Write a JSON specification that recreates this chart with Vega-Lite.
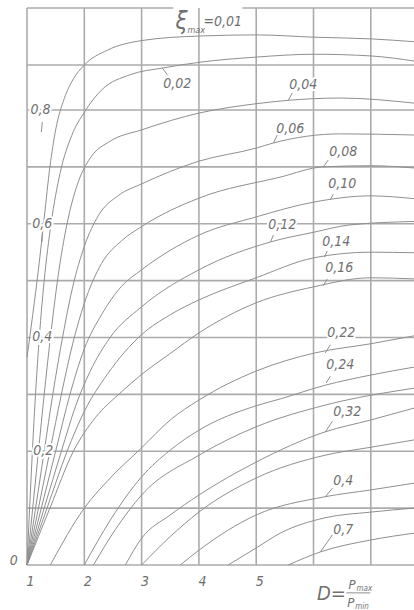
{
  "$schema": "https://vega.github.io/schema/vega-lite/v6.json",
  "width": 388,
  "height": 557,
  "autosize": {"type": "none"},
  "padding": {"left": 27, "top": 8, "right": 0, "bottom": 45},
  "background": "#ffffff",
  "config": {"view": {"stroke": null}},
  "layer": [
    {
      "data": {"values": [{"D": 1}, {"D": 2}, {"D": 3}, {"D": 4}, {"D": 5}, {"D": 6}, {"D": 7}]},
      "mark": {"type": "rule", "color": "#ababab", "strokeWidth": 1.6},
      "encoding": {
        "x": {"field": "D", "type": "quantitative", "scale": {"domain": [1, 7.771], "nice": false, "zero": false},
              "axis": {"values": [1, 2, 3, 4, 5], "format": "d", "title": null, "grid": false, "ticks": false, "domain": false,
                       "labelFont": "DejaVu Sans Condensed, DejaVu Sans", "labelFontStyle": "italic", "labelFontSize": 14,
                       "labelColor": "#6e6e6e", "labelPadding": 9, "labelOffset": 3, "labelFlush": false}},
        "y": {"datum": 0, "scale": {"domain": [0, 0.9793], "nice": false, "zero": false}, "axis": null},
        "y2": {"datum": 0.9793}
      }
    },
    {
      "data": {"values": [{"e": 0}, {"e": 0.1}, {"e": 0.2}, {"e": 0.3}, {"e": 0.4}, {"e": 0.5}, {"e": 0.6}, {"e": 0.7}, {"e": 0.8}, {"e": 0.879}]},
      "mark": {"type": "rule", "color": "#ababab", "strokeWidth": 1.6},
      "encoding": {
        "y": {"field": "e", "type": "quantitative", "scale": {"domain": [0, 0.9793], "nice": false, "zero": false}, "axis": null},
        "x": {"datum": 1, "scale": {"domain": [1, 7.771], "nice": false, "zero": false}},
        "x2": {"datum": 7.771}
      }
    },
    {
      "data": {"values": [{"a": 1, "b": 3.553, "e": 0.9793}, {"a": 4.758, "b": 7.771, "e": 0.9793}]},
      "mark": {"type": "rule", "color": "#ababab", "strokeWidth": 1.6},
      "encoding": {
        "x": {"field": "a", "type": "quantitative", "scale": {"domain": [1, 7.771], "nice": false, "zero": false}},
        "x2": {"field": "b"},
        "y": {"field": "e", "type": "quantitative", "scale": {"domain": [0, 0.9793], "nice": false, "zero": false}}
      }
    },
    {
      "data": {"values": [
        {"xi": "0.01", "D": 1.0, "e": 0.365}, {"xi": "0.01", "D": 1.1, "e": 0.44}, {"xi": "0.01", "D": 1.2, "e": 0.52}, {"xi": "0.01", "D": 1.3, "e": 0.61}, {"xi": "0.01", "D": 1.4, "e": 0.70}, {"xi": "0.01", "D": 1.5, "e": 0.765}, {"xi": "0.01", "D": 1.65, "e": 0.82}, {"xi": "0.01", "D": 1.8, "e": 0.853}, {"xi": "0.01", "D": 2.0, "e": 0.879}, {"xi": "0.01", "D": 2.4, "e": 0.905}, {"xi": "0.01", "D": 3.0, "e": 0.922}, {"xi": "0.01", "D": 4.0, "e": 0.930}, {"xi": "0.01", "D": 5.0, "e": 0.932}, {"xi": "0.01", "D": 6.0, "e": 0.928}, {"xi": "0.01", "D": 7.0, "e": 0.925}, {"xi": "0.01", "D": 7.76, "e": 0.920},
        {"xi": "0.02", "D": 1.0, "e": 0}, {"xi": "0.02", "D": 1.06, "e": 0.13}, {"xi": "0.02", "D": 1.12, "e": 0.25}, {"xi": "0.02", "D": 1.2, "e": 0.38}, {"xi": "0.02", "D": 1.3, "e": 0.5}, {"xi": "0.02", "D": 1.42, "e": 0.6}, {"xi": "0.02", "D": 1.58, "e": 0.69}, {"xi": "0.02", "D": 1.78, "e": 0.755}, {"xi": "0.02", "D": 2.0, "e": 0.796}, {"xi": "0.02", "D": 2.3, "e": 0.835}, {"xi": "0.02", "D": 2.8, "e": 0.862}, {"xi": "0.02", "D": 3.38, "e": 0.874}, {"xi": "0.02", "D": 4.02, "e": 0.884}, {"xi": "0.02", "D": 5.0, "e": 0.893}, {"xi": "0.02", "D": 6.0, "e": 0.898}, {"xi": "0.02", "D": 7.0, "e": 0.895}, {"xi": "0.02", "D": 7.76, "e": 0.886},
        {"xi": "0.04", "D": 1.0, "e": 0}, {"xi": "0.04", "D": 1.1, "e": 0.1}, {"xi": "0.04", "D": 1.2, "e": 0.2}, {"xi": "0.04", "D": 1.3, "e": 0.3}, {"xi": "0.04", "D": 1.42, "e": 0.41}, {"xi": "0.04", "D": 1.56, "e": 0.52}, {"xi": "0.04", "D": 1.72, "e": 0.61}, {"xi": "0.04", "D": 1.9, "e": 0.675}, {"xi": "0.04", "D": 2.1, "e": 0.715}, {"xi": "0.04", "D": 2.45, "e": 0.745}, {"xi": "0.04", "D": 3.0, "e": 0.765}, {"xi": "0.04", "D": 4.02, "e": 0.795}, {"xi": "0.04", "D": 5.0, "e": 0.811}, {"xi": "0.04", "D": 5.56, "e": 0.817}, {"xi": "0.04", "D": 6.47, "e": 0.821}, {"xi": "0.04", "D": 7.76, "e": 0.812},
        {"xi": "0.06", "D": 1.0, "e": 0}, {"xi": "0.06", "D": 1.15, "e": 0.1}, {"xi": "0.06", "D": 1.3, "e": 0.2}, {"xi": "0.06", "D": 1.45, "e": 0.3}, {"xi": "0.06", "D": 1.62, "e": 0.4}, {"xi": "0.06", "D": 1.8, "e": 0.49}, {"xi": "0.06", "D": 2.0, "e": 0.56}, {"xi": "0.06", "D": 2.25, "e": 0.615}, {"xi": "0.06", "D": 2.6, "e": 0.65}, {"xi": "0.06", "D": 3.0, "e": 0.67}, {"xi": "0.06", "D": 4.0, "e": 0.71}, {"xi": "0.06", "D": 5.0, "e": 0.733}, {"xi": "0.06", "D": 5.3, "e": 0.742}, {"xi": "0.06", "D": 6.47, "e": 0.758}, {"xi": "0.06", "D": 7.76, "e": 0.756},
        {"xi": "0.08", "D": 1.0, "e": 0}, {"xi": "0.08", "D": 1.2, "e": 0.1}, {"xi": "0.08", "D": 1.4, "e": 0.2}, {"xi": "0.08", "D": 1.6, "e": 0.3}, {"xi": "0.08", "D": 1.8, "e": 0.39}, {"xi": "0.08", "D": 2.0, "e": 0.46}, {"xi": "0.08", "D": 2.3, "e": 0.53}, {"xi": "0.08", "D": 2.65, "e": 0.57}, {"xi": "0.08", "D": 3.0, "e": 0.595}, {"xi": "0.08", "D": 4.0, "e": 0.645}, {"xi": "0.08", "D": 5.42, "e": 0.682}, {"xi": "0.08", "D": 6.17, "e": 0.700}, {"xi": "0.08", "D": 7.0, "e": 0.702}, {"xi": "0.08", "D": 7.76, "e": 0.698},
        {"xi": "0.10", "D": 1.0, "e": 0}, {"xi": "0.10", "D": 1.25, "e": 0.1}, {"xi": "0.10", "D": 1.5, "e": 0.2}, {"xi": "0.10", "D": 1.75, "e": 0.3}, {"xi": "0.10", "D": 2.0, "e": 0.38}, {"xi": "0.10", "D": 2.3, "e": 0.44}, {"xi": "0.10", "D": 2.65, "e": 0.49}, {"xi": "0.10", "D": 3.0, "e": 0.519}, {"xi": "0.10", "D": 4.0, "e": 0.580}, {"xi": "0.10", "D": 5.0, "e": 0.612}, {"xi": "0.10", "D": 6.0, "e": 0.638}, {"xi": "0.10", "D": 7.0, "e": 0.649}, {"xi": "0.10", "D": 7.76, "e": 0.644},
        {"xi": "0.12", "D": 1.0, "e": 0}, {"xi": "0.12", "D": 1.3, "e": 0.1}, {"xi": "0.12", "D": 1.6, "e": 0.2}, {"xi": "0.12", "D": 1.85, "e": 0.28}, {"xi": "0.12", "D": 2.1, "e": 0.34}, {"xi": "0.12", "D": 2.45, "e": 0.40}, {"xi": "0.12", "D": 3.0, "e": 0.454}, {"xi": "0.12", "D": 4.0, "e": 0.519}, {"xi": "0.12", "D": 5.25, "e": 0.568}, {"xi": "0.12", "D": 6.0, "e": 0.585}, {"xi": "0.12", "D": 6.64, "e": 0.598}, {"xi": "0.12", "D": 7.76, "e": 0.604},
        {"xi": "0.14", "D": 1.0, "e": 0}, {"xi": "0.14", "D": 1.35, "e": 0.1}, {"xi": "0.14", "D": 1.7, "e": 0.2}, {"xi": "0.14", "D": 2.0, "e": 0.27}, {"xi": "0.14", "D": 2.4, "e": 0.335}, {"xi": "0.14", "D": 3.0, "e": 0.405}, {"xi": "0.14", "D": 3.5, "e": 0.44}, {"xi": "0.14", "D": 4.0, "e": 0.466}, {"xi": "0.14", "D": 5.0, "e": 0.505}, {"xi": "0.14", "D": 6.0, "e": 0.540}, {"xi": "0.14", "D": 7.0, "e": 0.550}, {"xi": "0.14", "D": 7.76, "e": 0.549},
        {"xi": "0.16", "D": 1.0, "e": 0}, {"xi": "0.16", "D": 1.4, "e": 0.1}, {"xi": "0.16", "D": 1.81, "e": 0.2}, {"xi": "0.16", "D": 2.2, "e": 0.26}, {"xi": "0.16", "D": 2.6, "e": 0.3}, {"xi": "0.16", "D": 3.0, "e": 0.335}, {"xi": "0.16", "D": 3.5, "e": 0.372}, {"xi": "0.16", "D": 4.0, "e": 0.408}, {"xi": "0.16", "D": 5.0, "e": 0.461}, {"xi": "0.16", "D": 6.0, "e": 0.489}, {"xi": "0.16", "D": 7.0, "e": 0.505}, {"xi": "0.16", "D": 7.76, "e": 0.503},
        {"xi": "0.22", "D": 1.407, "e": 0}, {"xi": "0.22", "D": 2.0, "e": 0.1}, {"xi": "0.22", "D": 2.454, "e": 0.153}, {"xi": "0.22", "D": 3.0, "e": 0.206}, {"xi": "0.22", "D": 3.5, "e": 0.255}, {"xi": "0.22", "D": 4.0, "e": 0.29}, {"xi": "0.22", "D": 5.0, "e": 0.341}, {"xi": "0.22", "D": 6.03, "e": 0.373}, {"xi": "0.22", "D": 7.0, "e": 0.389}, {"xi": "0.22", "D": 7.76, "e": 0.403},
        {"xi": "0.24", "D": 2.0, "e": 0}, {"xi": "0.24", "D": 2.454, "e": 0.079}, {"xi": "0.24", "D": 3.0, "e": 0.155}, {"xi": "0.24", "D": 3.5, "e": 0.202}, {"xi": "0.24", "D": 4.0, "e": 0.237}, {"xi": "0.24", "D": 5.0, "e": 0.28}, {"xi": "0.24", "D": 5.42, "e": 0.292}, {"xi": "0.24", "D": 6.2, "e": 0.316}, {"xi": "0.24", "D": 7.0, "e": 0.334}, {"xi": "0.24", "D": 7.76, "e": 0.348},
        {"xi": "0.28", "D": 2.16, "e": 0}, {"xi": "0.28", "D": 2.54, "e": 0.062}, {"xi": "0.28", "D": 3.0, "e": 0.123}, {"xi": "0.28", "D": 4.0, "e": 0.193}, {"xi": "0.28", "D": 5.0, "e": 0.243}, {"xi": "0.28", "D": 6.2, "e": 0.281}, {"xi": "0.28", "D": 7.76, "e": 0.311},
        {"xi": "0.32", "D": 2.716, "e": 0}, {"xi": "0.32", "D": 3.0, "e": 0.047}, {"xi": "0.32", "D": 3.5, "e": 0.088}, {"xi": "0.32", "D": 4.0, "e": 0.123}, {"xi": "0.32", "D": 5.0, "e": 0.181}, {"xi": "0.32", "D": 6.2, "e": 0.234}, {"xi": "0.32", "D": 7.0, "e": 0.255}, {"xi": "0.32", "D": 7.76, "e": 0.276},
        {"xi": "0.36", "D": 3.0, "e": 0}, {"xi": "0.36", "D": 3.5, "e": 0.05}, {"xi": "0.36", "D": 4.0, "e": 0.093}, {"xi": "0.36", "D": 5.0, "e": 0.153}, {"xi": "0.36", "D": 6.2, "e": 0.193}, {"xi": "0.36", "D": 7.0, "e": 0.207}, {"xi": "0.36", "D": 7.76, "e": 0.22},
        {"xi": "0.4", "D": 3.675, "e": 0}, {"xi": "0.4", "D": 4.0, "e": 0.026}, {"xi": "0.4", "D": 5.0, "e": 0.088}, {"xi": "0.4", "D": 6.2, "e": 0.12}, {"xi": "0.4", "D": 7.0, "e": 0.132}, {"xi": "0.4", "D": 7.76, "e": 0.144},
        {"xi": "0.5", "D": 4.51, "e": 0}, {"xi": "0.5", "D": 5.0, "e": 0.03}, {"xi": "0.5", "D": 5.42, "e": 0.056}, {"xi": "0.5", "D": 6.2, "e": 0.083}, {"xi": "0.5", "D": 7.0, "e": 0.093}, {"xi": "0.5", "D": 7.76, "e": 0.1},
        {"xi": "0.7", "D": 5.56, "e": 0}, {"xi": "0.7", "D": 6.12, "e": 0.023}, {"xi": "0.7", "D": 7.0, "e": 0.044}, {"xi": "0.7", "D": 7.76, "e": 0.056}
      ]},
      "mark": {"type": "line", "interpolate": "monotone", "color": "#8f8f8f", "strokeWidth": 1},
      "encoding": {
        "x": {"field": "D", "type": "quantitative", "scale": {"domain": [1, 7.771], "nice": false, "zero": false}},
        "y": {"field": "e", "type": "quantitative", "scale": {"domain": [0, 0.9793], "nice": false, "zero": false}},
        "detail": {"field": "xi", "type": "nominal"}
      }
    },
    {
      "data": {"values": [
        {"t": "0,02", "D": 3.36, "e": 0.874, "D2": 3.449, "e2": 0.862, "lx": 3.623, "ly": 0.846},
        {"t": "0,04", "D": 5.56, "e": 0.817, "D2": 5.63, "e2": 0.830, "lx": 5.822, "ly": 0.844},
        {"t": "0,06", "D": 5.30, "e": 0.742, "D2": 5.368, "e2": 0.756, "lx": 5.595, "ly": 0.767},
        {"t": "0,08", "D": 6.17, "e": 0.700, "D2": 6.258, "e2": 0.712, "lx": 6.52, "ly": 0.727},
        {"t": "0,10", "D": 6.29, "e": 0.642, "D2": 6.346, "e2": 0.652, "lx": 6.503, "ly": 0.670},
        {"t": "0,12", "D": 5.25, "e": 0.568, "D2": 5.30, "e2": 0.580, "lx": 5.455, "ly": 0.598},
        {"t": "0,14", "D": 6.19, "e": 0.541, "D2": 6.24, "e2": 0.552, "lx": 6.398, "ly": 0.568},
        {"t": "0,16", "D": 6.17, "e": 0.491, "D2": 6.24, "e2": 0.503, "lx": 6.45, "ly": 0.522},
        {"t": "0,22", "D": 6.206, "e": 0.373, "D2": 6.293, "e2": 0.387, "lx": 6.485, "ly": 0.408},
        {"t": "0,24", "D": 6.223, "e": 0.320, "D2": 6.293, "e2": 0.332, "lx": 6.468, "ly": 0.352},
        {"t": "0,32", "D": 6.206, "e": 0.234, "D2": 6.33, "e2": 0.253, "lx": 6.59, "ly": 0.269},
        {"t": "0,4", "D": 6.206, "e": 0.120, "D2": 6.33, "e2": 0.135, "lx": 6.52, "ly": 0.148},
        {"t": "0,7", "D": 6.12, "e": 0.023, "D2": 6.33, "e2": 0.053, "lx": 6.52, "ly": 0.062}
      ]},
      "layer": [
        {
          "mark": {"type": "rule", "color": "#8f8f8f", "strokeWidth": 1},
          "encoding": {
            "x": {"field": "D", "type": "quantitative", "scale": {"domain": [1, 7.771], "nice": false, "zero": false}},
            "y": {"field": "e", "type": "quantitative", "scale": {"domain": [0, 0.9793], "nice": false, "zero": false}},
            "x2": {"field": "D2"},
            "y2": {"field": "e2"}
          }
        },
        {
          "mark": {"type": "text", "font": "DejaVu Sans Condensed, DejaVu Sans", "fontStyle": "italic", "fontSize": 14, "color": "#ffffff", "stroke": "#ffffff", "strokeWidth": 4, "align": "center", "baseline": "middle"},
          "encoding": {
            "x": {"field": "lx", "type": "quantitative", "scale": {"domain": [1, 7.771], "nice": false, "zero": false}},
            "y": {"field": "ly", "type": "quantitative", "scale": {"domain": [0, 0.9793], "nice": false, "zero": false}},
            "text": {"field": "t"}
          }
        },
        {
          "mark": {"type": "text", "font": "DejaVu Sans Condensed, DejaVu Sans", "fontStyle": "italic", "fontSize": 14, "color": "#707070", "align": "center", "baseline": "middle"},
          "encoding": {
            "x": {"field": "lx", "type": "quantitative", "scale": {"domain": [1, 7.771], "nice": false, "zero": false}},
            "y": {"field": "ly", "type": "quantitative", "scale": {"domain": [0, 0.9793], "nice": false, "zero": false}},
            "text": {"field": "t"}
          }
        }
      ]
    },
    {
      "data": {"values": [
        {"t": "0", "D": 0.70, "e": 0.007},
        {"t": "0,2", "D": 1.11, "e": 0.2},
        {"t": "0,4", "D": 1.09, "e": 0.4},
        {"t": "0,6", "D": 1.09, "e": 0.6},
        {"t": "0,8", "D": 1.06, "e": 0.8}
      ]},
      "layer": [
        {
          "mark": {"type": "text", "font": "DejaVu Sans Condensed, DejaVu Sans", "fontStyle": "italic", "fontSize": 14, "color": "#ffffff", "stroke": "#ffffff", "strokeWidth": 4, "align": "left", "baseline": "middle"},
          "encoding": {
            "x": {"field": "D", "type": "quantitative", "scale": {"domain": [1, 7.771], "nice": false, "zero": false}},
            "y": {"field": "e", "type": "quantitative", "scale": {"domain": [0, 0.9793], "nice": false, "zero": false}},
            "text": {"field": "t"}
          }
        },
        {
          "mark": {"type": "text", "font": "DejaVu Sans Condensed, DejaVu Sans", "fontStyle": "italic", "fontSize": 14, "color": "#707070", "align": "left", "baseline": "middle"},
          "encoding": {
            "x": {"field": "D", "type": "quantitative", "scale": {"domain": [1, 7.771], "nice": false, "zero": false}},
            "y": {"field": "e", "type": "quantitative", "scale": {"domain": [0, 0.9793], "nice": false, "zero": false}},
            "text": {"field": "t"}
          }
        }
      ]
    },
    {
      "data": {"values": [
        {"D": 1.267, "e": 0.779, "D2": 1.25, "e2": 0.761},
        {"D": 1.267, "e": 0.584, "D2": 1.262, "e2": 0.568},
        {"D": 6.573, "e": -0.049, "D2": 6.99, "e2": -0.049}
      ]},
      "mark": {"type": "rule", "color": "#8f8f8f", "strokeWidth": 1},
      "encoding": {
        "x": {"field": "D", "type": "quantitative", "scale": {"domain": [1, 7.771], "nice": false, "zero": false}},
        "y": {"field": "e", "type": "quantitative", "scale": {"domain": [0, 0.9793], "nice": false, "zero": false}},
        "x2": {"field": "D2"},
        "y2": {"field": "e2"}
      }
    },
    {
      "data": {"values": [
        {"t": "ξ", "D": 3.59, "e": 0.955, "s": 24},
        {"t": "max", "D": 3.80, "e": 0.941, "s": 9},
        {"t": "=0,01", "D": 4.08, "e": 0.955, "s": 14},
        {"t": "D=", "D": 6.06, "e": -0.051, "s": 20},
        {"t": "P", "D": 6.61, "e": -0.035, "s": 13},
        {"t": "max", "D": 6.75, "e": -0.042, "s": 8},
        {"t": "P", "D": 6.59, "e": -0.066, "s": 13},
        {"t": "min", "D": 6.73, "e": -0.074, "s": 8}
      ]},
      "mark": {"type": "text", "font": "DejaVu Sans Condensed, DejaVu Sans", "fontStyle": "italic", "color": "#707070", "align": "left", "baseline": "middle"},
      "encoding": {
        "x": {"field": "D", "type": "quantitative", "scale": {"domain": [1, 7.771], "nice": false, "zero": false}},
        "y": {"field": "e", "type": "quantitative", "scale": {"domain": [0, 0.9793], "nice": false, "zero": false}},
        "text": {"field": "t"},
        "size": {"field": "s", "type": "quantitative", "scale": null}
      }
    }
  ]
}
